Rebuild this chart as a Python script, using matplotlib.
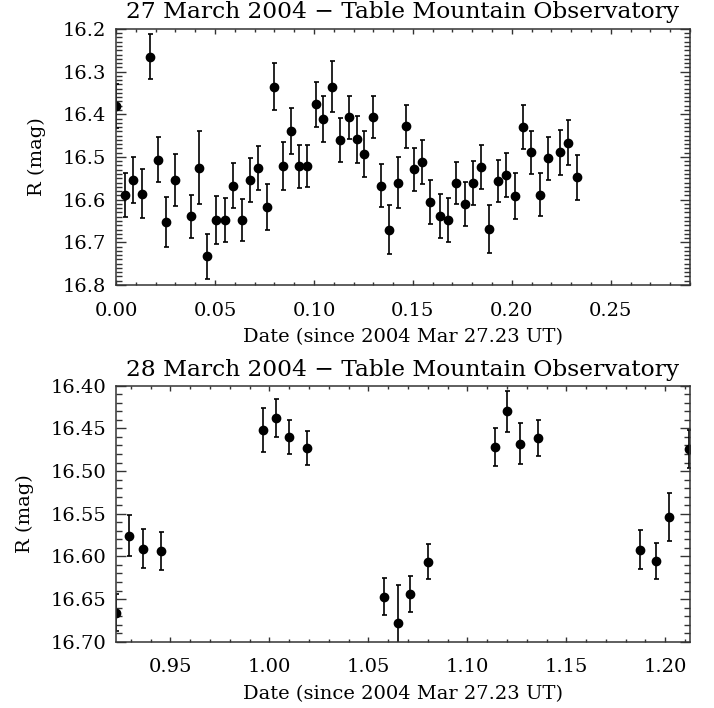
import numpy as np
import matplotlib
matplotlib.use("Agg")
import matplotlib.pyplot as plt
from matplotlib.ticker import MultipleLocator, FormatStrFormatter

# 27 March 2004 night (days since 2004 Mar 27.23 UT)
t1 = [0.0000, 0.0046, 0.0088, 0.0130, 0.0172, 0.0211, 0.0255, 0.0298, 0.0379, 0.0419,
      0.0460, 0.0504, 0.0549, 0.0592, 0.0634, 0.0676, 0.0719, 0.0761, 0.0800, 0.0842,
      0.0884, 0.0925, 0.0967, 0.1008, 0.1048, 0.1091, 0.1133, 0.1175, 0.1216, 0.1254,
      0.1297, 0.1339, 0.1380, 0.1423, 0.1464, 0.1504, 0.1547, 0.1587, 0.1636, 0.1677,
      0.1720, 0.1761, 0.1803, 0.1846, 0.1886, 0.1928, 0.1971, 0.2015, 0.2057, 0.2098,
      0.2140, 0.2182, 0.2243, 0.2285, 0.2327]
mag1 = [16.381, 16.589, 16.554, 16.586, 16.265, 16.506, 16.653, 16.553, 16.639, 16.525,
        16.733, 16.648, 16.648, 16.567, 16.648, 16.554, 16.526, 16.618, 16.335, 16.521,
        16.440, 16.522, 16.521, 16.377, 16.411, 16.335, 16.460, 16.407, 16.458, 16.493,
        16.406, 16.567, 16.670, 16.560, 16.428, 16.529, 16.512, 16.606, 16.638, 16.648,
        16.561, 16.610, 16.561, 16.524, 16.669, 16.556, 16.543, 16.591, 16.430, 16.489,
        16.588, 16.503, 16.489, 16.467, 16.548]
err1 = [0.052, 0.051, 0.053, 0.057, 0.053, 0.052, 0.059, 0.061, 0.050, 0.086,
        0.052, 0.056, 0.051, 0.052, 0.050, 0.051, 0.051, 0.054, 0.055, 0.056,
        0.054, 0.050, 0.050, 0.052, 0.054, 0.059, 0.052, 0.050, 0.055, 0.055,
        0.050, 0.050, 0.058, 0.059, 0.050, 0.051, 0.052, 0.051, 0.052, 0.052,
        0.050, 0.052, 0.051, 0.052, 0.056, 0.050, 0.052, 0.054, 0.052, 0.051,
        0.051, 0.050, 0.053, 0.053, 0.053]

# 28 March 2004 night
t2 = [0.9225, 0.9292, 0.9362, 0.9451, 0.9966, 1.0033, 1.0100, 1.0189, 1.0581, 1.0648,
      1.0712, 1.0802, 1.1138, 1.1200, 1.1267, 1.1356, 1.1872, 1.1954, 1.2018, 1.2118]
mag2 = [16.666, 16.576, 16.591, 16.594, 16.452, 16.438, 16.460, 16.473, 16.647, 16.678,
        16.644, 16.606, 16.472, 16.430, 16.468, 16.461, 16.592, 16.605, 16.554, 16.474]
err2 = [0.022, 0.024, 0.023, 0.022, 0.026, 0.022, 0.020, 0.020, 0.022, 0.045,
        0.021, 0.021, 0.022, 0.024, 0.024, 0.021, 0.023, 0.021, 0.028, 0.022]

plt.rcParams["font.family"] = "DejaVu Serif"
plt.rcParams["font.size"] = 14

fig = plt.figure(figsize=(7.14, 7.08), dpi=100)
ax1 = fig.add_axes([0.1625, 0.5975, 0.8039, 0.3616])
ax2 = fig.add_axes([0.1625, 0.0936, 0.8039, 0.3616])


def style_axis(ax, xmaj, ymaj, yfmt):
    ax.xaxis.set_major_locator(MultipleLocator(xmaj))
    ax.xaxis.set_minor_locator(MultipleLocator(0.01))
    ax.yaxis.set_major_locator(MultipleLocator(ymaj))
    ax.yaxis.set_minor_locator(MultipleLocator(0.01))
    ax.xaxis.set_major_formatter(FormatStrFormatter("%.2f"))
    ax.yaxis.set_major_formatter(FormatStrFormatter(yfmt))
    ax.tick_params(axis="both", which="both", direction="in", top=True, right=True,
                   width=1.0, color="#333333")
    ax.tick_params(axis="x", which="major", length=3.8, pad=12)
    ax.tick_params(axis="x", which="minor", length=2.0)
    ax.tick_params(axis="y", which="major", length=7.5, pad=7)
    ax.tick_params(axis="y", which="minor", length=4.0)
    for s in ax.spines.values():
        s.set_linewidth(1.1)
        s.set_color("#333333")
    ax.set_ylabel("R (mag)", labelpad=12)
    ax.set_xlabel("Date (since 2004 Mar 27.23 UT)", labelpad=6)


ax1.errorbar(t1, mag1, yerr=err1, fmt="o", color="black", ms=6, elinewidth=1.2,
             capsize=1.8, capthick=1.2)
ax1.set_xlim(0.0, 0.29)
ax1.set_ylim(16.8, 16.2)
style_axis(ax1, 0.05, 0.1, "%.1f")
ax1.set_title("27 March 2004 \u2212 Table Mountain Observatory", pad=8)

ax2.errorbar(t2, mag2, yerr=err2, fmt="o", color="black", ms=6, elinewidth=1.2,
             capsize=1.8, capthick=1.2)
ax2.set_xlim(0.9225, 1.2125)
ax2.set_ylim(16.70, 16.40)
style_axis(ax2, 0.05, 0.05, "%.2f")
ax2.set_title("28 March 2004 \u2212 Table Mountain Observatory", pad=7)

fig.savefig("out.png", dpi=100)
